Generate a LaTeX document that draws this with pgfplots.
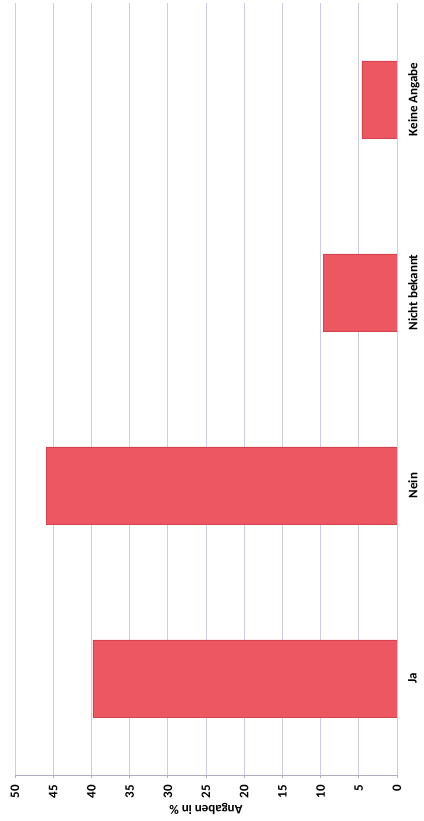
\documentclass[border=0pt]{standalone}
\usepackage{fontspec}
\setmainfont{Carlito}
\usepackage{pgfplots}
\pgfplotsset{compat=1.18}
\usetikzlibrary{calc}
\definecolor{barred}{RGB}{237,87,97}
\definecolor{baredge}{RGB}{212,66,78}
\definecolor{gridc}{RGB}{204,204,228}
\begin{document}
\begin{tikzpicture}
\begin{axis}[
  name=ax,
  scale only axis, width=382pt, height=772pt,
  font=\fontsize{13}{15}\selectfont\bfseries,
  /pgf/number format/assume math mode=true,
  xbar, bar width=0.4,
  x dir=reverse,
  xmin=0, xmax=50, xtick={0,5,...,50},
  ymin=-0.5, ymax=3.5, ytick={0,1,2,3},
  yticklabels={Ja, Nein, Nicht bekannt, Keine Angabe},
  axis x line*=bottom, axis y line*=right,
  x axis line style={draw=gridc!85!black, line width=0.8pt},
  y axis line style={draw=gridc, line width=0.8pt},
  xmajorgrids, major grid style={draw=gridc, line width=0.8pt},
  tick align=outside, major tick length=3pt,
  xtick style={draw=gridc!85!black, line width=0.8pt},
  ytick style={draw=none},
  xticklabel style={rotate=90, anchor=east, inner sep=1pt, xshift=-6pt},
  yticklabel style={rotate=90, anchor=north, inner sep=1pt, yshift=-7pt},
  xlabel={Angaben in \%},
  xlabel style={rotate=180, anchor=south, inner sep=1pt, yshift=3pt},
]
\addplot[fill=barred, draw=baredge, line width=0.5pt] coordinates {
  (39.8,0) (45.9,1) (9.6,2) (4.6,3)
};
\end{axis}
\pgfresetboundingbox
\path[use as bounding box] ($(ax.south west)+(-15pt,-46pt)$) rectangle ($(ax.north east)+(26pt,3pt)$);
\end{tikzpicture}
\end{document}
